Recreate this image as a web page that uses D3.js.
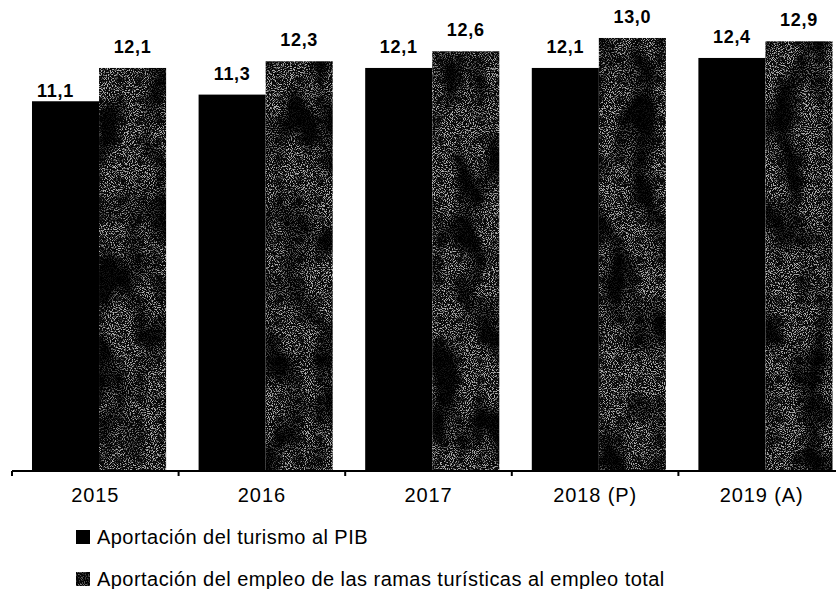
<!DOCTYPE html>
<html>
<head>
<meta charset="utf-8">
<script src="https://cdn.jsdelivr.net/npm/d3@7"></script>
<style>
  html, body { margin: 0; padding: 0; background: #fff; }
  svg { display: block; font-family: Arial, "Liberation Sans", Helvetica, sans-serif; }
</style>
</head>
<body>
<svg id="chart" width="836" height="589"></svg>
<script>
// Tourism share of GDP and of total employment, 2015–2019 (%)
const years = ["2015", "2016", "2017", "2018 (P)", "2019 (A)"];
const seriesNames = [
  "Aportación del turismo al PIB",
  "Aportación del empleo de las ramas turísticas al empleo total"
];
const pibValues = [11.1, 11.3, 12.1, 12.1, 12.4];
const empleoValues = [12.1, 12.3, 12.6, 13.0, 12.9];

const svg = d3.select("#chart");
const W = 836, H = 589;

const baseline = 471;
const x = d3.scaleBand().domain(years).range([12, 845]).padding(0);
const bw = x.bandwidth();
const xs = d3.scaleBand().domain([0, 1]).range([bw * 0.12, bw * 0.925]).padding(0);
const y = d3.scaleLinear().domain([0, 14.14]).range([baseline, 0]);

// grainy fill for the employment series: light speckles on black,
// denser in broad soft patches
const defs = svg.append("defs");
const f = defs.append("filter").attr("id", "grain")
  .attr("x", 0).attr("y", 0).attr("width", 1).attr("height", 1)
  .attr("color-interpolation-filters", "sRGB");
f.append("feTurbulence").attr("type", "fractalNoise")
  .attr("baseFrequency", "0.95").attr("numOctaves", 2).attr("seed", 7).attr("result", "fine");
f.append("feColorMatrix").attr("in", "fine").attr("type", "matrix")
  .attr("values", "1 0 0 0 0  1 0 0 0 0  1 0 0 0 0  0 0 0 0 1").attr("result", "fineGrey");
const ct = f.append("feComponentTransfer").attr("in", "fineGrey").attr("result", "speck");
["feFuncR", "feFuncG", "feFuncB"].forEach(fn =>
  ct.append(fn).attr("type", "linear").attr("slope", 6).attr("intercept", -3.0));
f.append("feTurbulence").attr("type", "fractalNoise")
  .attr("baseFrequency", "0.035 0.02").attr("numOctaves", 2).attr("seed", 3).attr("result", "broad");
f.append("feColorMatrix").attr("in", "broad").attr("type", "matrix")
  .attr("values", "1 0 0 0 0  1 0 0 0 0  1 0 0 0 0  0 0 0 0 1").attr("result", "broadGrey");
const ct2 = f.append("feComponentTransfer").attr("in", "broadGrey").attr("result", "patch");
["feFuncR", "feFuncG", "feFuncB"].forEach(fn =>
  ct2.append(fn).attr("type", "linear").attr("slope", 3.0).attr("intercept", -0.85));
// opaque product (alpha stays at 1), then scaled down in brightness
f.append("feComposite").attr("in", "speck").attr("in2", "patch")
  .attr("operator", "arithmetic").attr("k1", 1).attr("k2", 0.12).attr("k3", 0.05).attr("k4", 0)
  .attr("result", "prod");
const ct3 = f.append("feComponentTransfer").attr("in", "prod").attr("result", "tex");
["feFuncR", "feFuncG", "feFuncB"].forEach(fn =>
  ct3.append(fn).attr("type", "linear").attr("slope", 0.68).attr("intercept", 0.0));
ct3.append("feFuncA").attr("type", "linear").attr("slope", 0).attr("intercept", 1);
f.append("feComposite").attr("in", "tex").attr("in2", "SourceGraphic").attr("operator", "in");

const series = [
  { name: seriesNames[0], values: pibValues, fill: "#000", filter: null },
  { name: seriesNames[1], values: empleoValues, fill: "#222", filter: "url(#grain)" }
];

const g = svg.append("g");

series.forEach((s, si) => {
  g.selectAll(null)
    .data(years.map((yr, i) => ({ yr, v: s.values[i] })))
    .join("rect")
    .attr("x", d => x(d.yr) + xs(si))
    .attr("y", d => y(d.v))
    .attr("width", xs.bandwidth())
    .attr("height", d => baseline - y(d.v))
    .attr("fill", s.fill)
    .attr("filter", s.filter);
});

// value labels above bars
const labelNudge = { "0-0": { dx: -10, dy: 11 } };
series.forEach((s, si) => {
  g.selectAll(null)
    .data(years.map((yr, i) => ({ yr, v: s.values[i], i })))
    .join("text")
    .attr("x", d => x(d.yr) + xs(si) + xs.bandwidth() / 2 + ((labelNudge[si + "-" + d.i] || {}).dx || 0))
    .attr("y", d => y(d.v) - 15 + ((labelNudge[si + "-" + d.i] || {}).dy || 0))
    .attr("text-anchor", "middle")
    .attr("font-size", 18)
    .attr("font-weight", "bold")
    .attr("letter-spacing", 0.7)
    .attr("fill", "#000")
    .text(d => d3.format(".1f")(d.v).replace(".", ","));
});

// category axis
const axis = svg.append("g").attr("transform", `translate(0,${baseline})`);
axis.append("line")
  .attr("x1", 12).attr("x2", W).attr("y1", 0).attr("y2", 0)
  .attr("stroke", "#000").attr("stroke-width", 2);
axis.selectAll(".tick")
  .data(years.map(yr => x(yr)))
  .join("line")
  .attr("x1", d => d).attr("x2", d => d)
  .attr("y1", 0).attr("y2", 5)
  .attr("stroke", "#000").attr("stroke-width", 2);
axis.selectAll(".lbl")
  .data(years)
  .join("text")
  .attr("x", d => x(d) + bw / 2)
  .attr("y", 31)
  .attr("text-anchor", "middle")
  .attr("font-size", 20)
  .attr("letter-spacing", 0.9)
  .attr("fill", "#000")
  .text(d => d);

// legend
const legend = svg.append("g").attr("transform", "translate(76,0)");
series.forEach((s, si) => {
  const ly = 544 + si * 42;
  legend.append("rect")
    .attr("x", 0).attr("y", ly - 14)
    .attr("width", 14).attr("height", 14)
    .attr("fill", s.fill)
    .attr("filter", s.filter);
  legend.append("text")
    .attr("x", 21).attr("y", ly)
    .attr("font-size", 20)
    .attr("letter-spacing", 0.45)
    .attr("fill", "#000")
    .text(s.name);
});
</script>
</body>
</html>
